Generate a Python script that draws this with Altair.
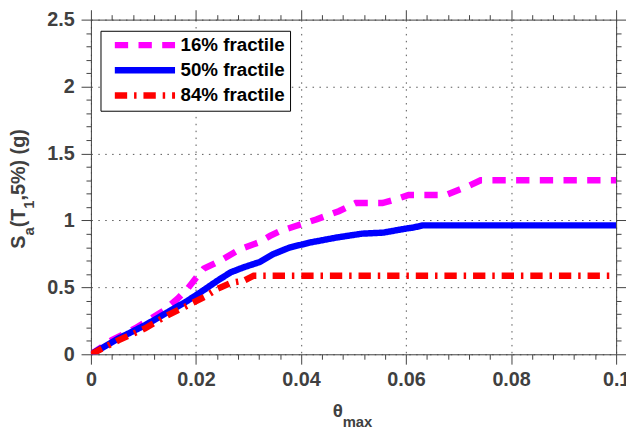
import altair as alt
import pandas as pd

# ---- data ----
series_labels = ["16% fractile", "50% fractile", "84% fractile"]
series_colors = ["#ff00ff", "#0000ff", "#ff0000"]
series_dashes = [[13.5, 10.5], [1, 0], [12.5, 7, 2.5, 7]]

theta_16 = [0, 0.004, 0.0084, 0.014, 0.0165, 0.0184, 0.020, 0.0215, 0.0247, 0.0284,
            0.0319, 0.0341, 0.036, 0.039, 0.0429, 0.0472, 0.0504, 0.0555, 0.0579,
            0.0605, 0.0676, 0.0717, 0.0742, 0.1]
sa_16 = [0, 0.106, 0.193, 0.33, 0.415, 0.49, 0.57, 0.64, 0.70, 0.785,
         0.835, 0.884, 0.92, 0.958, 1.007, 1.069, 1.13, 1.13, 1.156,
         1.19, 1.19, 1.254, 1.30, 1.30]

theta_50 = [0, 0.0053, 0.0103, 0.0153, 0.0184, 0.0209, 0.0241, 0.0266, 0.0291, 0.0322,
            0.0347, 0.0378, 0.0416, 0.0466, 0.0516, 0.0557, 0.0598, 0.0613, 0.0632, 0.1]
sa_50 = [0, 0.119, 0.217, 0.33, 0.40, 0.464, 0.55, 0.612, 0.65, 0.69,
         0.748, 0.797, 0.834, 0.871, 0.901, 0.909, 0.938, 0.946, 0.963, 0.963]

theta_84 = [0, 0.0053, 0.0103, 0.014, 0.0184, 0.0216, 0.0241, 0.0266, 0.0291, 0.031, 0.1]
sa_84 = [0, 0.106, 0.193, 0.279, 0.365, 0.427, 0.489, 0.533, 0.55, 0.587, 0.587]

x_ticks = [round(i * 0.004, 4) for i in range(26)]
y_ticks = [round(i * 0.1, 1) for i in range(26)]

rows = []
for lab, xs, ys in zip(series_labels, [theta_16, theta_50, theta_84], [sa_16, sa_50, sa_84]):
    for i, (xv, yv) in enumerate(zip(xs, ys)):
        rows.append({"theta": xv, "sa": yv, "series": lab, "order": i})
df = pd.DataFrame(rows)

FONT = "Liberation Sans"
AX = "#404040"
X_MAJOR = "abs(datum.value*50 - round(datum.value*50)) < 1e-6"
Y_MAJOR = "abs(datum.value*2 - round(datum.value*2)) < 1e-6"


def cond(test, a, b):
    return {"condition": {"test": test, "value": a}, "value": b}


common_axis = dict(
    title=None, domainColor=AX, domainWidth=1, tickColor=AX, tickWidth=1,
    labelFont=FONT, labelFontSize=20, labelFontWeight="bold", labelColor=AX,
    labelOverlap=False, labelFlush=False,
)

x_scale = alt.Scale(domain=[0, 0.1], nice=False, zero=False)
y_scale = alt.Scale(domain=[0, 2.5], nice=False, zero=False)

x_bottom = alt.Axis(
    orient="bottom", values=x_ticks, grid=True, gridColor="#555555", gridDash=[1.5, 5.5],
    gridOpacity=cond(X_MAJOR, 1, 0), tickSize=cond(X_MAJOR, 10, 5), labelPadding=6,
    labelExpr=f"({X_MAJOR}) ? format(datum.value, '~g') : ''", **common_axis)
y_left = alt.Axis(
    orient="left", values=y_ticks, grid=True, gridColor="#555555", gridDash=[1.5, 5.5],
    gridOpacity=cond(Y_MAJOR, 1, 0), tickSize=cond(Y_MAJOR, 10, 5), labelPadding=7,
    labelExpr=f"({Y_MAJOR}) ? format(datum.value, '~g') : ''", **common_axis)
x_top = alt.Axis(orient="top", values=x_ticks, grid=False, labels=False,
                 tickSize=cond(X_MAJOR, 10, 5), **common_axis)
y_right = alt.Axis(orient="right", values=y_ticks, grid=False, labels=False,
                   tickSize=cond(Y_MAJOR, 10, 5), **common_axis)

legend = alt.Legend(
    title=None, orient="none", legendX=9.7, legendY=11.3,
    symbolType="stroke", symbolSize=3721, symbolStrokeWidth=6.5,
    clipHeight=19, rowPadding=5.5, padding=5, symbolOffset=6, labelOffset=2,
    labelFont=FONT, labelFontSize=19, labelFontWeight="bold", labelColor="black",
    fillColor="white", strokeColor="black", labelLimit=300,
)

lines = alt.Chart(df).mark_line(strokeWidth=6.5, clip=True).encode(
    x=alt.X("theta:Q", scale=x_scale, axis=x_bottom),
    y=alt.Y("sa:Q", scale=y_scale, axis=y_left),
    color=alt.Color("series:N", scale=alt.Scale(domain=series_labels, range=series_colors), legend=legend),
    strokeDash=alt.StrokeDash("series:N", scale=alt.Scale(domain=series_labels, range=series_dashes), legend=legend),
    order="order:Q",
)

mirror = alt.Chart(df).mark_point(opacity=0).encode(
    x=alt.X("theta:Q", scale=x_scale, axis=x_top),
    y=alt.Y("sa:Q", scale=y_scale, axis=y_right),
)


def label(s, x, y, size, angle=0):
    return alt.Chart(pd.DataFrame({"t": [s]})).mark_text(
        font=FONT, fontSize=size, fontWeight="bold", color=AX, align="left",
        baseline="alphabetic", angle=angle,
    ).encode(text="t:N", x=alt.value(x), y=alt.value(y))


titles = [
    label("θ", 245, 403, 19),
    label("max", 255, 413, 15),
    label("S", -67, 232, 20, 270),
    label("a", -58, 218.7, 15, 270),
    label("(T", -67, 210.4, 20, 270),
    label("1", -58, 191.5, 15, 270),
    label(",5%) (g)", -67, 183.2, 20, 270),
]

chart = alt.layer(lines, mirror, *titles).resolve_axis(
    x="independent", y="independent"
).properties(
    width=532, height=339,
    autosize=alt.AutoSizeParams(type="none"),
    padding={"left": 84, "top": 9, "right": 10, "bottom": 80},
    background="white",
).configure_view(stroke=None)

chart.save("out.html", embed_options={"renderer": "svg", "actions": False})
